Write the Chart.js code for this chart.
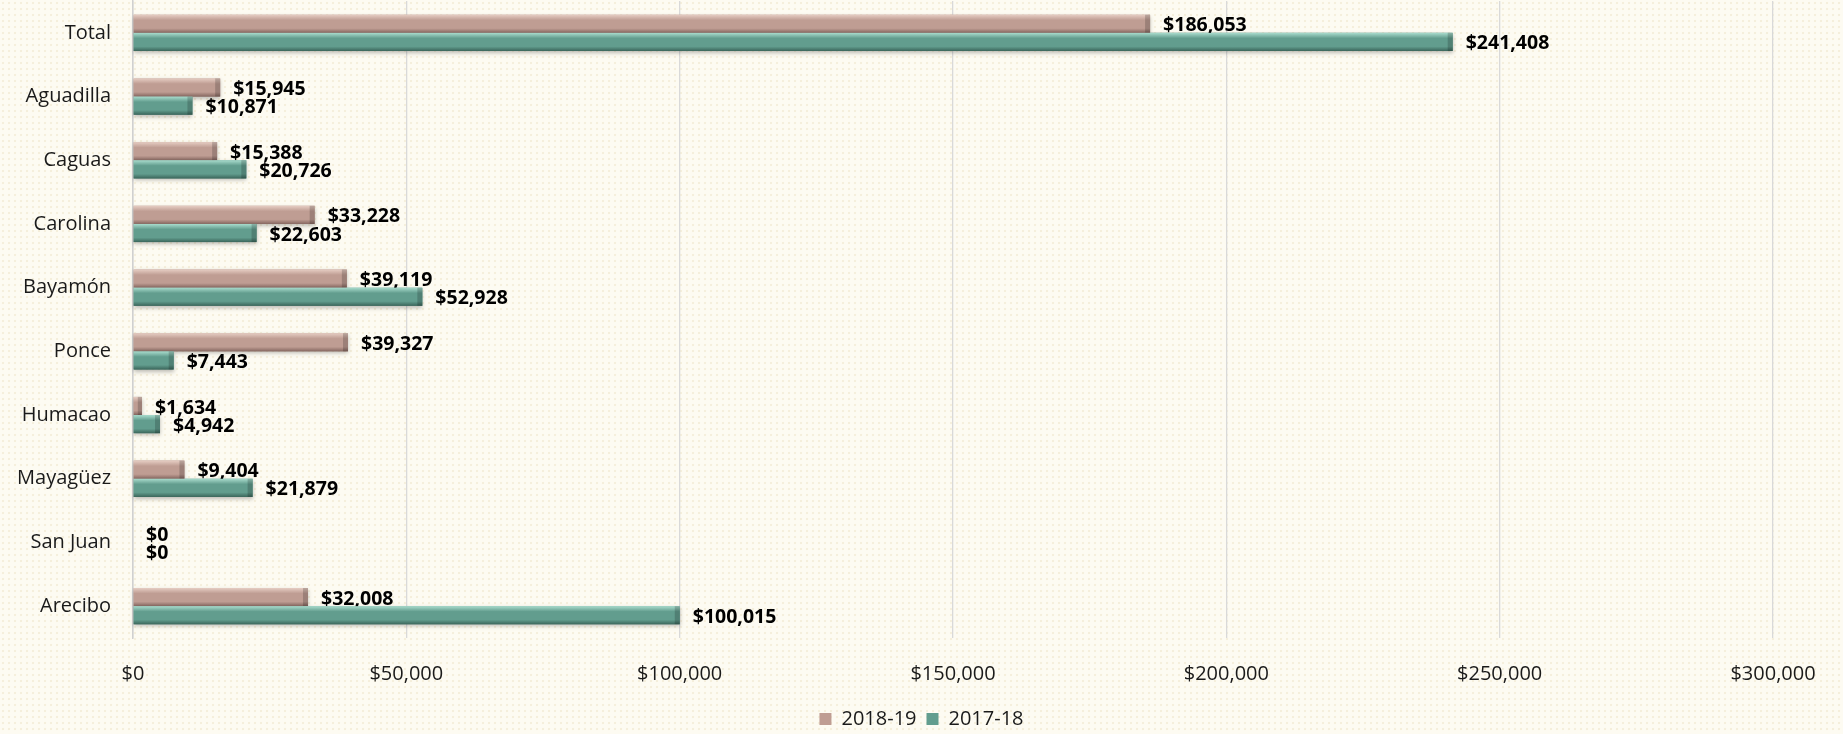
<!DOCTYPE html>
<html>
<head>
<meta charset="utf-8">
<script src="https://cdn.jsdelivr.net/npm/chart.js@4.4.1/dist/chart.umd.min.js"></script>
<style>
  html, body { margin: 0; padding: 0; }
  body {
    width: 1843px; height: 734px; overflow: hidden;
    background-color: #fdfbf2;
    background-image: radial-gradient(circle, #f5efdc 1px, transparent 1.6px);
    background-size: 6px 6px;
  }
  #wrap { position: relative; width: 1843px; height: 734px; }
</style>
</head>
<body>
<div id="wrap"><canvas id="grafico"></canvas></div>
<script>
// categorias (de cima para baixo)
const regioes = ['Total', 'Aguadilla', 'Caguas', 'Carolina', 'Bayamón', 'Ponce', 'Humacao', 'Mayagüez', 'San Juan', 'Arecibo'];

// valores por ano
const valores1819 = [186053, 15945, 15388, 33228, 39119, 39327, 1634, 9404, 0, 32008];
const valores1718 = [241408, 10871, 20726, 22603, 52928, 7443, 4942, 21879, 0, 100015];

// ticks do eixo x
const ticksX = [0, 50000, 100000, 150000, 200000, 250000, 300000];

const fonte = "'Open Sans', 'Noto Sans', sans-serif";

function dinheiro(v) {
  return '$' + v.toLocaleString('en-US');
}

// cores para o efeito "bisel" das barras
const tons = [
  { topo: '#e6cdc3', meio: '#bf9d93', base: '#866760' },
  { topo: '#a9dccd', meio: '#629d8e', base: '#3b665b' }
];

// plugin que pinta as barras com degradê e escreve os valores
const pluginBarras = {
  id: 'pluginBarras',
  afterDatasetsDraw(chart) {
    const ctx = chart.ctx;
    chart.data.datasets.forEach((ds, i) => {
      const meta = chart.getDatasetMeta(i);
      const t = tons[i];
      meta.data.forEach((bar, j) => {
        const x0 = bar.base, x1 = bar.x;
        const h = bar.height;
        const yTop = bar.y - h / 2;
        if (x1 - x0 > 0.5) {
          ctx.save();
          ctx.shadowColor = 'rgba(0,0,0,0.25)';
          ctx.shadowBlur = 4;
          ctx.shadowOffsetY = 2;
          const g = ctx.createLinearGradient(0, yTop, 0, yTop + h);
          g.addColorStop(0, t.topo);
          g.addColorStop(0.3, t.meio);
          g.addColorStop(0.75, t.meio);
          g.addColorStop(1, t.base);
          ctx.fillStyle = g;
          ctx.fillRect(x0, yTop, x1 - x0, h);
          ctx.restore();
          // bisel na ponta
          const w = Math.min(5, (x1 - x0) / 2);
          ctx.fillStyle = 'rgba(0,0,0,0.18)';
          ctx.fillRect(x1 - w, yTop, w, h);
        }
        ctx.save();
        ctx.font = 'bold 19.5px ' + fonte;
        ctx.fillStyle = '#000';
        ctx.textBaseline = 'middle';
        ctx.textAlign = 'left';
        ctx.fillText(dinheiro(ds.data[j]), x1 + 13, bar.y + 2);
        ctx.restore();
      });
    });
  }
};

const dados = {
  labels: regioes,
  datasets: [
    { label: '2018-19', data: valores1819, backgroundColor: '#bf9d93', borderWidth: 0 },
    { label: '2017-18', data: valores1718, backgroundColor: '#629d8e', borderWidth: 0 }
  ]
};

const config = {
  type: 'bar',
  data: dados,
  options: {
    indexAxis: 'y',
    responsive: false,
    animation: false,
    devicePixelRatio: 1,
    layout: { autoPadding: false, padding: { top: 1, right: 0, left: 0, bottom: -5 } },
    datasets: { bar: { categoryPercentage: 0.57, barPercentage: 1.0 } },
    scales: {
      x: {
        min: 0, max: 300000,
        afterBuildTicks(axis) { axis.ticks = ticksX.map(v => ({ value: v })); },
        grid: { color: '#d9d9d9', lineWidth: 1.3, drawTicks: false },
        border: { display: false },
        ticks: {
          padding: 24,
          color: '#1a1a1a',
          font: { family: fonte, size: 20 },
          callback: v => dinheiro(v)
        },
        afterFit(axis) { axis.height = 61; axis.paddingRight = 70; axis.paddingLeft = 0; }
      },
      y: {
        grid: { display: false, drawTicks: false },
        border: { display: true, color: '#d0d0d0', width: 1.5 },
        ticks: {
          padding: 22,
          color: '#1a1a1a',
          font: { family: fonte, size: 20 }
        },
        afterFit(axis) { axis.width = 133; axis.paddingTop = 0; axis.paddingBottom = 0; }
      }
    },
    plugins: {
      legend: {
        position: 'bottom',
        labels: {
          boxWidth: 12,
          boxHeight: 12,
          padding: 10,
          color: '#1a1a1a',
          font: { family: fonte, size: 20 }
        }
      },
      tooltip: { enabled: false }
    }
  },
  plugins: [pluginBarras]
};

const canvas = document.getElementById('grafico');
canvas.width = 1843;
canvas.height = 734;
new Chart(canvas, config);
</script>
</body>
</html>
